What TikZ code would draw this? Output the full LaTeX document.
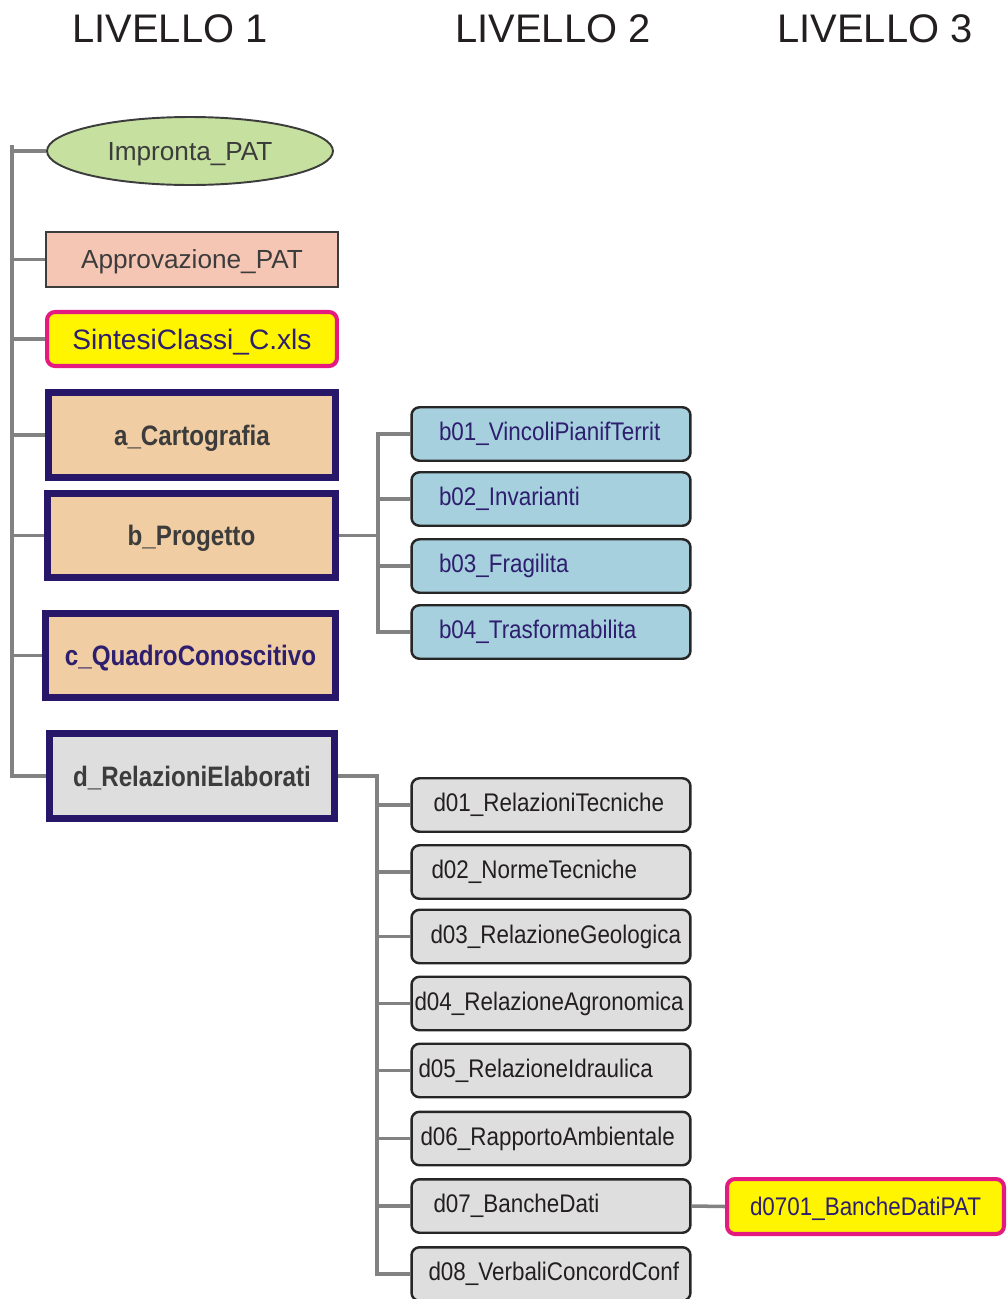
\documentclass[tikz,border=0pt]{standalone}
\usepackage{fontspec}
\setmainfont{Liberation Sans}
\newfontfamily\narrowfont[FakeStretch=0.88]{Liberation Sans}
\newfontfamily\narrowbold[FakeStretch=0.86]{Liberation Sans}
\usepackage{tikz}
\usetikzlibrary{shapes.geometric}

\definecolor{navybox}{RGB}{40,22,104}
\definecolor{navytext}{RGB}{45,30,110}
\definecolor{darktext}{RGB}{60,60,60}
\definecolor{blacktext}{RGB}{35,31,32}
\definecolor{connline}{RGB}{130,130,130}
\definecolor{greenfill}{RGB}{198,224,160}
\definecolor{salmonfill}{RGB}{246,198,180}
\definecolor{peachfill}{RGB}{240,205,162}
\definecolor{yellowfill}{RGB}{255,245,0}
\definecolor{magentaline}{RGB}{228,26,128}
\definecolor{bluefill}{RGB}{166,208,222}
\definecolor{greyfill}{RGB}{222,222,222}

\begin{document}
\begin{tikzpicture}[x=0.02cm, y=-0.02cm,
  level/.style={text=blacktext, font=\fontsize{22.7}{26}\selectfont},
  conn/.style={draw=connline, line width=2pt},
  plain/.style={draw=darktext, line width=1.1pt, text=darktext, text depth=0pt, font=\fontsize{14.9}{17}\selectfont},
  marked/.style={draw=magentaline, line width=2.3pt, fill=yellowfill, rounded corners=0.16cm, text=navytext, text depth=0pt, font=\fontsize{16}{19}\selectfont},
  lvone/.style={draw=navybox, line width=4pt, fill=peachfill, minimum width=5.74cm, minimum height=1.7cm, text=darktext, text depth=0pt, font=\narrowbold\bfseries\fontsize{16}{19}\selectfont},
  lvtwo/.style={draw=black!85, line width=1.4pt, rounded corners=0.16cm, minimum height=1.07cm, align=left, font=\narrowfont\fontsize{14.5}{17}\selectfont},
  bbox/.style={lvtwo, fill=bluefill, text=navytext, text width=4.48cm, inner xsep=0.55cm},
  dbox/.style={lvtwo, fill=greyfill, text=blacktext, text width=4.7cm, inner xsep=0.44cm}]
\useasboundingbox (0,0) rectangle (1007,1299);

\node[level] (lvl1) at (170,28.5) {LIVELLO 1};
\node[level] (lvl2) at (553,28.5) {LIVELLO 2};
\node[level] (lvl3) at (875,28.5) {LIVELLO 3};

\node[plain, ellipse, fill=greenfill, minimum width=5.72cm, minimum height=1.36cm] (imp) at (190,151) {Impronta\_PAT};
\node[plain, fill=salmonfill, minimum width=5.84cm, minimum height=1.1cm] (appr) at (192,259.5) {Approvazione\_PAT};
\node[marked, minimum width=5.8cm, minimum height=1.08cm] (sint) at (192,339) {SintesiClassi\_C.xls};
\node[lvone] (acart) at (192,435) {a\_Cartografia};
\node[lvone, minimum width=5.76cm, minimum height=1.68cm] (bprog) at (191.5,535.5) {b\_Progetto};
\node[lvone, minimum width=5.8cm, minimum height=1.68cm, text=navytext] (cquad) at (190.5,655.5) {c\_QuadroConoscitivo};
\node[lvone, fill=greyfill, minimum width=5.7cm] (drel) at (192,776) {d\_RelazioniElaborati};

\node[bbox] (b01) at (551,434) {b01\_VincoliPianifTerrit};
\node[bbox] (b02) at (551,499) {b02\_Invarianti};
\node[bbox] (b03) at (551,566) {b03\_Fragilita};
\node[bbox] (b04) at (551,632) {b04\_Trasformabilita};

\node[dbox] (d01) at (551,805) {d01\_RelazioniTecniche};
\node[dbox, inner xsep=0.4cm, text width=4.78cm] (d02) at (551,872) {d02\_NormeTecniche};
\node[dbox, inner xsep=0.38cm, text width=4.82cm] (d03) at (551,936.5) {d03\_RelazioneGeologica};
\node[dbox, inner xsep=0.06cm, text width=5.46cm] (d04) at (551,1003.5) {d04\_RelazioneAgronomica};
\node[dbox, inner xsep=0.14cm, text width=5.3cm] (d05) at (551,1070.5) {d05\_RelazioneIdraulica};
\node[dbox, inner xsep=0.18cm, text width=5.22cm] (d06) at (551,1138.5) {d06\_RapportoAmbientale};
\node[dbox] (d07) at (551,1206) {d07\_BancheDati};
\node[dbox, inner xsep=0.34cm, text width=4.9cm] (d08) at (551,1274) {d08\_VerbaliConcordConf};

\node[marked, minimum width=5.54cm, minimum height=1.1cm, font=\narrowfont\fontsize{14.5}{17}\selectfont] (d0701) at (865.5,1206.5) {d0701\_BancheDatiPAT};

\coordinate (spine) at (12,145);
\coordinate (bbus) at (378,0);
\coordinate (dbus) at (377,0);

\draw[conn] (spine) |- (drel.west);
\foreach \n in {imp,appr,sint,acart,bprog,cquad}
  \draw[conn] (spine |- \n.west) -- (\n.west);

\foreach \n in {b01,b02,b03,b04}
  \draw[conn] (bprog.east) -- (bprog.east -| bbus) |- (\n.west);

\foreach \n in {d01,d02,d03,d04,d05,d06,d07,d08}
  \draw[conn] (drel.east) -- (drel.east -| dbus) |- (\n.west);

\draw[conn] (d07.east) -- (d0701.west);

\end{tikzpicture}
\end{document}
